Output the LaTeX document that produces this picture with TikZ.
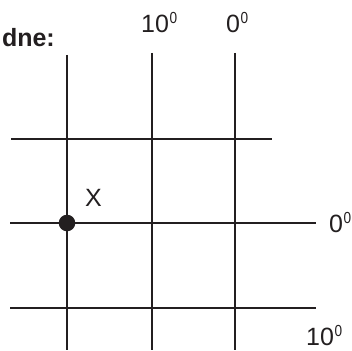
\documentclass[tikz,border=0pt]{standalone}
\usepackage{fontspec}
\setmainfont{Liberation Sans}
\definecolor{ink}{HTML}{231F20}
\newcommand{\degsup}[1]{#1\hspace{0.5pt}\raisebox{9pt}{\scalebox{0.85}[1]{\fontsize{16}{16}\selectfont 0}}}
\begin{document}
\begin{tikzpicture}[x=1pt,y=-1pt,
  gridline/.style={draw=ink,line width=2.2pt},
  lbl/.style={anchor=base west,inner sep=0pt,text=ink,font=\fontsize{25}{30}\selectfont}]
\useasboundingbox (0,0) rectangle (352,350);
% vertical lines
\draw[gridline] (67,55) -- (67,350);
\draw[gridline] (152,53) -- (152,350);
\draw[gridline] (235,53) -- (235,350);
% horizontal lines
\draw[gridline] (11,139) -- (272,139);
\draw[gridline] (10,223) -- (316,223);
\draw[gridline] (10,308) -- (316,308);
% point
\fill[ink] (67,223) circle (8.3);
% labels
\node[lbl,anchor=base east,font=\fontsize{25}{30}\selectfont\bfseries] (dne) at (55,47) {dne:};
\node[lbl] (t10) at (141,33) {\degsup{10}};
\node[lbl] (t0) at (226,33) {\degsup{0}};
\node[lbl] (r0) at (329,232) {\degsup{0}};
\node[lbl] (r10) at (306,345) {\degsup{10}};
\node[lbl] (x) at (85,206) {X};
\end{tikzpicture}
\end{document}
